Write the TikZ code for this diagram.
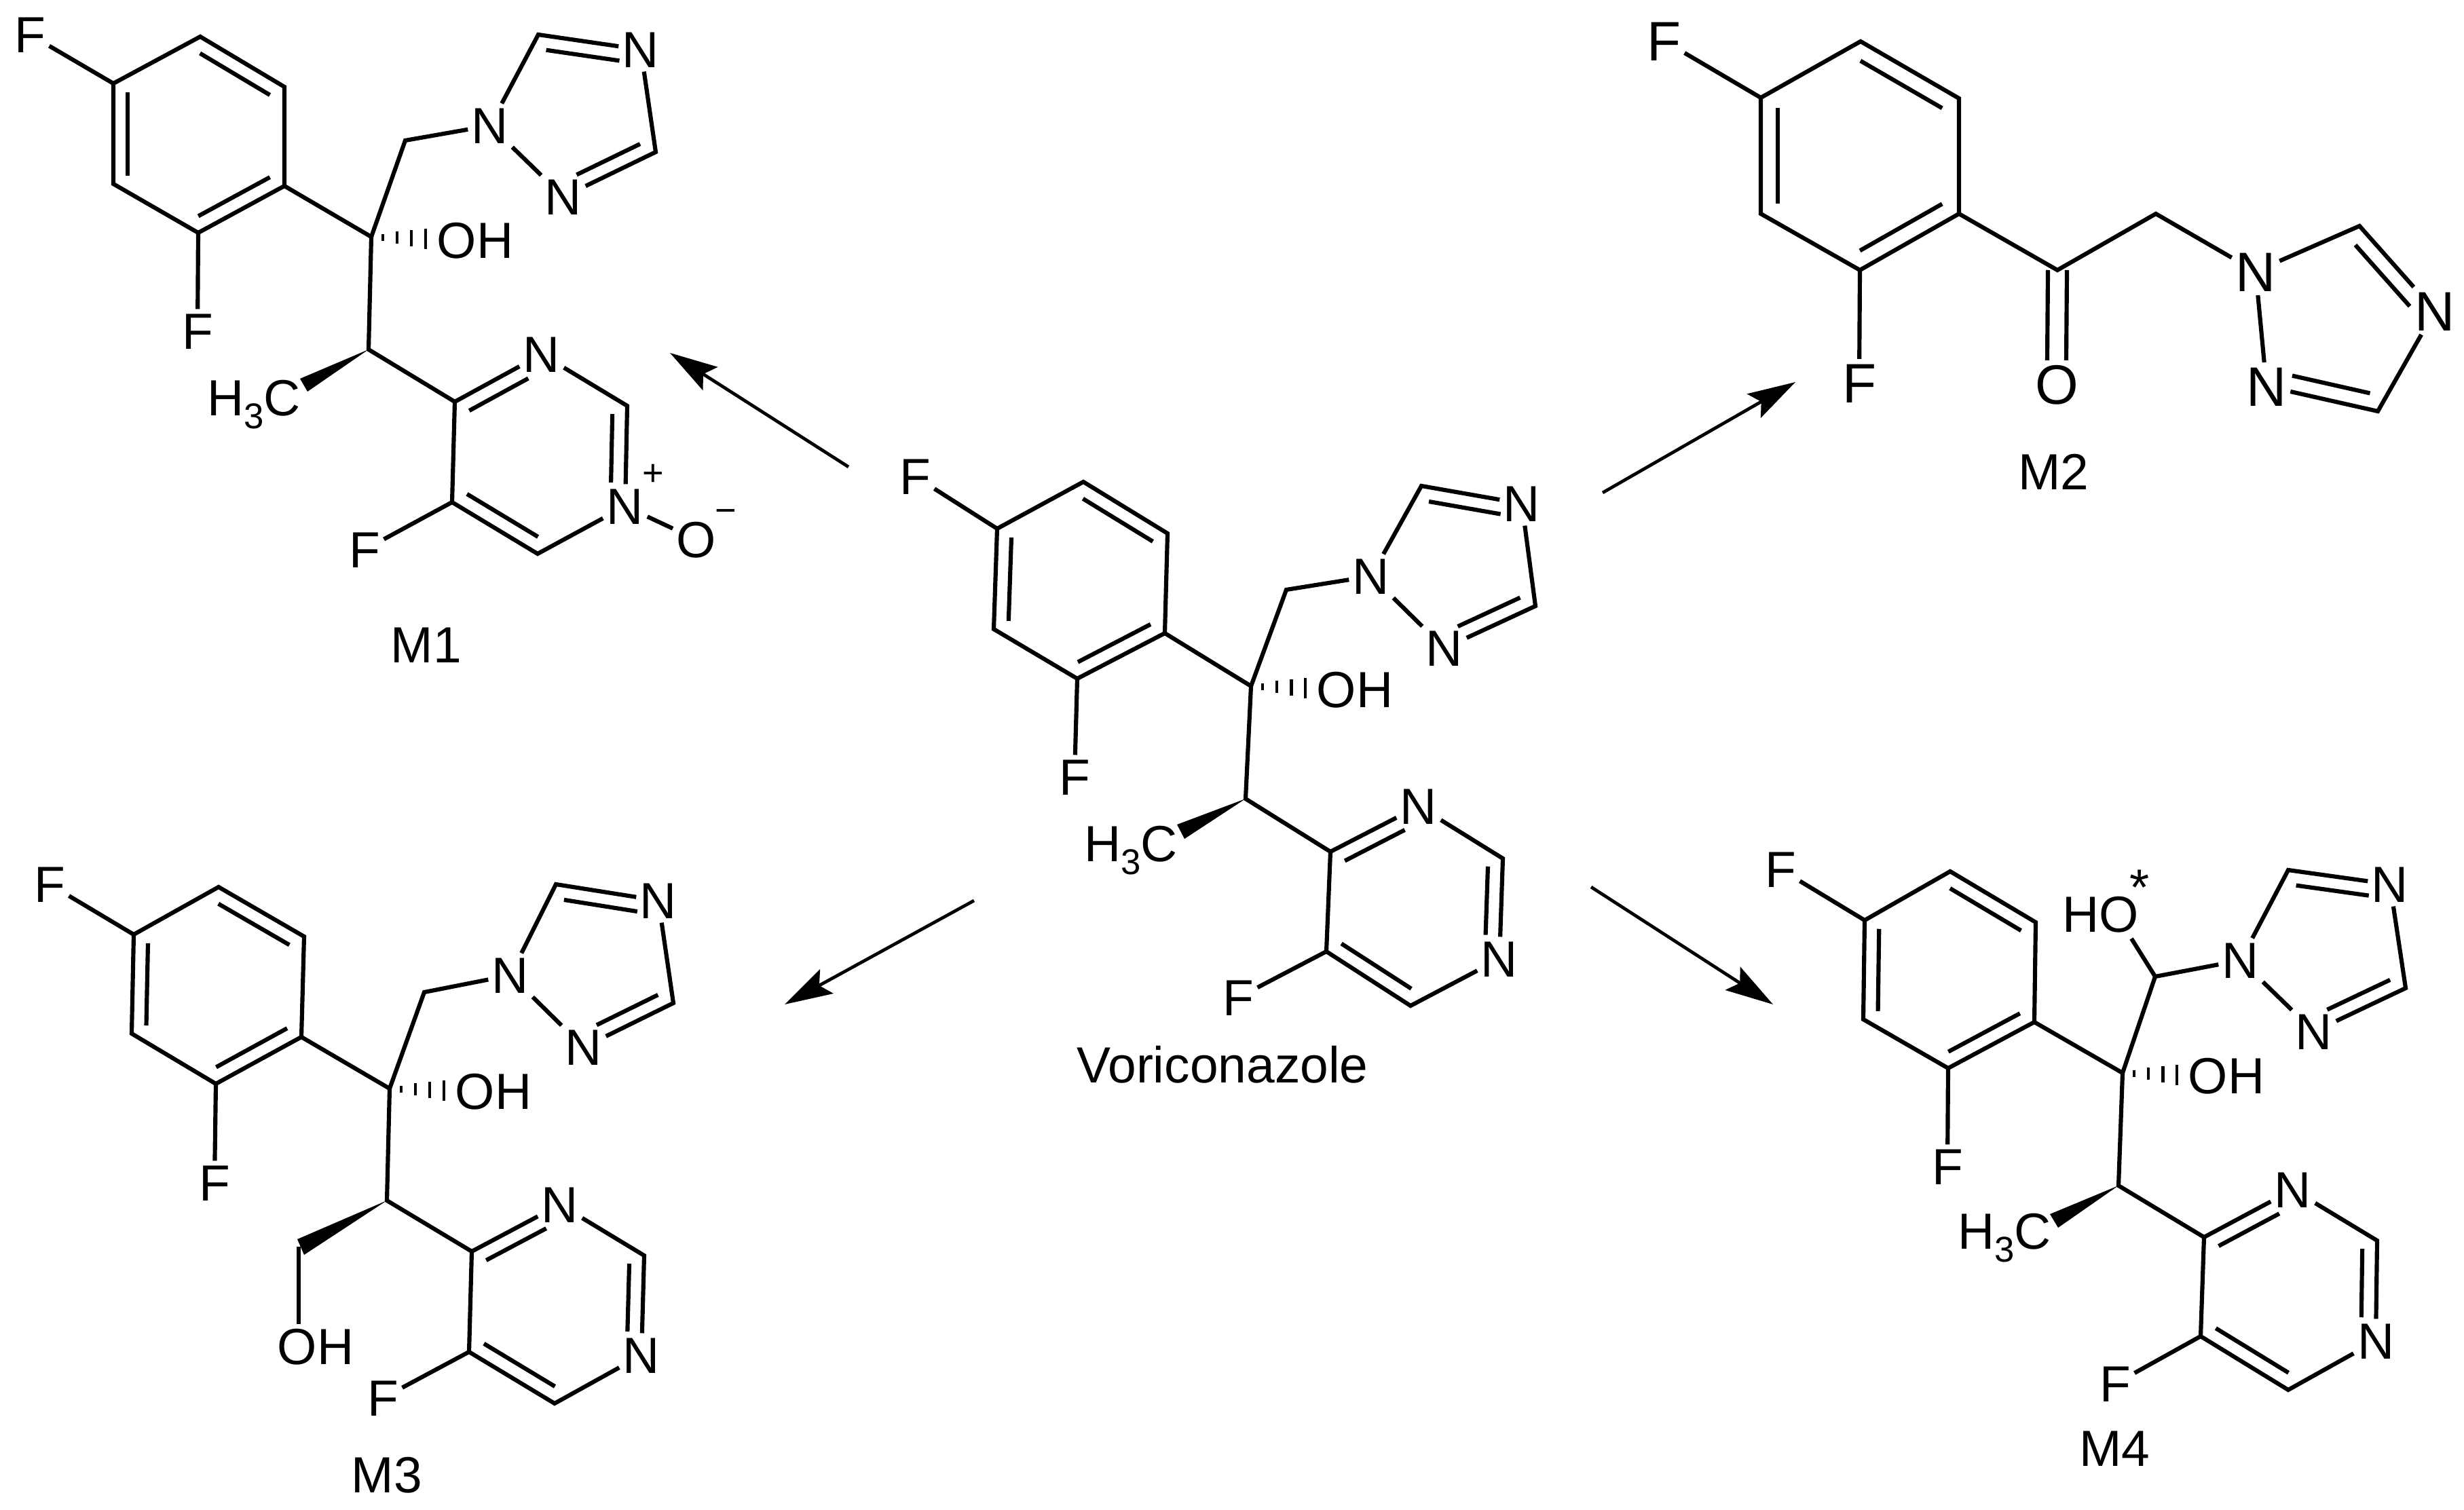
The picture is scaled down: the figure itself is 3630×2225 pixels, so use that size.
\documentclass[tikz,border=0pt]{standalone}
\usepackage{fontspec}
\setmainfont{Liberation Sans}
\usetikzlibrary{calc,arrows.meta}
\tikzset{
  bond/.style={line width=1.75pt,line join=miter,line cap=butt},
  atom/.style={font=\fontsize{21.3}{25}\selectfont,inner sep=0.05cm,text height=0.537cm,text depth=0pt},
  atomtwo/.style={atom,font=\fontsize{23.3}{27}\selectfont,text height=0.587cm},
  caption/.style={font=\fontsize{21.3}{25}\selectfont,inner sep=0pt,text height=0.537cm,text depth=0pt},
  charge/.style={font=\fontsize{15.4}{18}\selectfont,inner sep=0pt},
  react/.style={line width=1.35pt,-{Stealth[length=20pt,width=11.5pt,inset=3.5pt]}}
}
\newcommand{\Inner}[6]{% a, b, centre, fraction, shorten start, shorten end
  \draw[bond,shorten <=#5,shorten >=#6] ($(#1)!#4!(#3)$) -- ($(#2)!#4!(#3)$);}
\newcommand{\Aryl}[1]{%
  \coordinate (#1rc) at ($(#1a)!0.5!(#1d)$);
  \draw[bond] (#1a) -- (#1b) -- (#1c) -- (#1d) -- (#1e) -- (#1f) -- cycle;
  \Inner{#1a}{#1f}{#1rc}{0.17}{0cm}{0cm}
  \Inner{#1b}{#1c}{#1rc}{0.17}{0cm}{0cm}
  \Inner{#1d}{#1e}{#1rc}{0.17}{0cm}{0cm}
  \draw[bond] (#1a) -- (#1F1);
  \draw[bond] (#1e) -- (#1F2);}
\newcommand{\Triaz}[1]{%
  \coordinate (#1tc) at ($0.2*(#1N1)+0.2*(#1C5)+0.2*(#1N4)+0.2*(#1C3)+0.2*(#1N2)$);
  \draw[bond] (#1N1) -- (#1C5) -- (#1N4) -- (#1C3) -- (#1N2) -- (#1N1);
  \Inner{#1C5}{#1N4}{#1tc}{0.2}{0cm}{0.13cm}
  \Inner{#1C3}{#1N2}{#1tc}{0.2}{0cm}{0.17cm}}
\newcommand{\Pyrim}[1]{%
  \coordinate (#1pc) at ($(#1j)!0.5!(#1P1)$);
  \draw[bond] (#1m) -- (#1j) -- (#1N3) -- (#1k) -- (#1P1) -- (#1l) -- (#1m);
  \Inner{#1j}{#1N3}{#1pc}{0.17}{0cm}{0.22cm}
  \Inner{#1k}{#1P1}{#1pc}{0.17}{0cm}{0.22cm}
  \Inner{#1l}{#1m}{#1pc}{0.17}{0cm}{0cm}
  \draw[bond] (#1m) -- (#1F3);}
\newcommand{\Chain}[1]{%
  \draw[bond] (#1d) -- (#1g) -- (#1h) -- (#1N1);
  \draw[bond] (#1g) -- (#1i) -- (#1j);
  \coordinate (#1E) at ($(#1g)+(80,3)$);
  \foreach \t/\s in {0.21/5,0.475/9,0.74/12,1/15}
    \draw[line width=1.3pt] ($(#1g)!\t!(#1E)+(0,-\s)$) -- ($(#1g)!\t!(#1E)+(0,\s)$);}
\newcommand{\Wedge}[1]{\fill (#1i) -- (#1w1) -- (#1w2) -- cycle;}
\newcommand{\Methyl}{H\raisebox{-0.25em}{\fontsize{15}{15}\selectfont 3}C}
\begin{document}
\begin{tikzpicture}[x=0.01cm,y=-0.01cm]
\fill[white] (0,0) rectangle (3630,2225);
\useasboundingbox (0,0) rectangle (3630,2225);

% ---------- Voriconazole ----------
\foreach \n/\x/\y in {a/1469/779,b/1596/710,c/1720/786,d/1716/933,e/1587/1000,f/1464/927,g/1843/1011,h/1895/869,C5/2094/716,C3/2262/893,i/1835/1177,j/1960/1255,k/2214/1265,l/2078/1482,m/1954/1402,w1/1734/1215,w2/1745/1236}
  \coordinate (v\n) at (\x,\y);
\foreach \n/\x/\y/\s in {F1/1348/702/F,F2/1583/1145/F,F3/1824/1470/F,N1/2020/849/N,N4/2242/742/N,N2/2128/955/N,N3/2090/1188/N,P1/2209/1413/N,OH/1996/1016/OH}
  \node[atom] (v\n) at (\x,\y) {\s};
\node[atom] (vMe) at (1666,1243) {\Methyl};
\Aryl{v}\Triaz{v}\Pyrim{v}\Chain{v}\Wedge{v}
\node[caption] (vName) at (1801,1569) {Voriconazole};

% ---------- M1 ----------
\foreach \n/\x/\y in {a/167/123,b/295/54,c/419/128,d/419/274,e/292/343,f/167/271,g/547/349,h/597/207,C5/793/51,C3/966/224,i/543/515,j/670/592,k/924/598,l/792/816,m/666/740,w1/442/558,w2/453/577}
  \coordinate (ma\n) at (\x,\y);
\foreach \n/\x/\y/\s in {F1/44/51/F,F2/291/488/F,F3/537/810/F,N1/722/185/N,N4/944/73/N,N2/830/290/N,N3/798/522/N,P1/921/746/N,OH/700/354/OH,Ox/1026/795/O}
  \node[atom] (ma\n) at (\x,\y) {\s};
\node[atom] (maMe) at (374,586) {\Methyl};
\node[charge] (maPlus) at (962,700) {+};
\node[charge] (maMinus) at (1069,761) {−};
\Aryl{ma}\Triaz{ma}\Pyrim{ma}\Chain{ma}\Wedge{ma}
\draw[bond] (maP1) -- (maOx);
\node[caption] (maName) at (628,950) {M1};

% ---------- M2 ----------
\foreach \n/\x/\y in {a/2594/144,b/2741/61,c/2886/145,d/2886/315,e/2740/398,f/2594/315,g/3031/398,h/3176/315,C5/3476/333,C3/3503/606}
  \coordinate (mb\n) at (\x,\y);
\foreach \n/\x/\y/\s in {F1/2451/60/F,F2/2739/564/F,N1/3323/400/N,N4/3587/458/N,N2/3339/569/N,Ox/3030/566/O}
  \node[atomtwo] (mb\n) at (\x,\y) {\s};
\Aryl{mb}\Triaz{mb}
\draw[bond] (mbd) -- (mbg) -- (mbh) -- (mbN1);
\draw[bond] ($(mbg)+(-14,0)$) -- ($(mbOx.north)+(-14,0)$);
\draw[bond] ($(mbg)+(14,0)$) -- ($(mbOx.north)+(14,0)$);
\node[caption] (mbName) at (3025,695) {M2};

% ---------- M3 ----------
\foreach \n/\x/\y in {a/197/1377,b/322/1307,c/448/1380,d/444/1528,e/318/1597,f/194/1523,g/574/1604,h/625/1462,C5/819/1303,C3/992/1478,i/570/1769,j/695/1844,k/949/1850,l/817/2068,m/691/1992,w1/438/1826,w2/448/1849,q/440/1837}
  \coordinate (mc\n) at (\x,\y);
\foreach \n/\x/\y/\s in {F1/73/1303/F,F2/316/1743/F,F3/564/2060/F,N1/752/1437/N,N4/970/1327/N,N2/860/1543/N,N3/825/1775/N,P1/945/1997/N,OH/727/1608/OH,OHb/465/1984/OH}
  \node[atom] (mc\n) at (\x,\y) {\s};
\Aryl{mc}\Triaz{mc}\Pyrim{mc}\Chain{mc}\Wedge{mc}
\draw[bond] (mcq) -- (mcq |- mcOHb.north);
\node[caption] (mcName) at (570,2173) {M3};

% ---------- M4 ----------
\foreach \n/\x/\y in {a/2747/1356,b/2873/1284,c/2999/1359,d/2997/1506,e/2870/1574,f/2745/1502,g/3127/1581,h/3175/1439,C5/3371/1282,C3/3544/1456,i/3121/1747,j/3247/1823,k/3502/1828,l/3371/2048,m/3242/1969,w1/3020/1789,w2/3032/1809,hoEnd/3140/1383}
  \coordinate (md\n) at (\x,\y);
\foreach \n/\x/\y/\s in {F1/2623/1281/F,F2/2869/1719/F,F3/3116/2039/F,N1/3301/1415/N,N4/3521/1303/N,N2/3409/1520/N,N3/3378/1753/N,P1/3500/1976/N,OH/3280/1585/OH,HO/3095/1347/HO}
  \node[atom] (md\n) at (\x,\y) {\s};
\node[atom] (mdMe) at (2953,1814) {\Methyl};
\node[font=\fontsize{21.3}{25}\selectfont,inner sep=0pt] (mdStar) at (3152,1308) {*};
\Aryl{md}\Triaz{md}\Pyrim{md}\Chain{md}\Wedge{md}
\draw[bond] (mdh) -- (mdhoEnd);
\node[caption] (mdName) at (3115,2134) {M4};

% ---------- reaction arrows ----------
\foreach \n/\x/\y in {ta/1250/688,ha/987/520,tb/2361/726,hb/2645/563,tc/1435/1327,hc/1156/1480,td/2344/1307,hd/2612/1480}
  \coordinate (\n) at (\x,\y);
\draw[react] (ta) -- (ha);
\draw[react] (tb) -- (hb);
\draw[react] (tc) -- (hc);
\draw[react] (td) -- (hd);
\end{tikzpicture}
\end{document}
